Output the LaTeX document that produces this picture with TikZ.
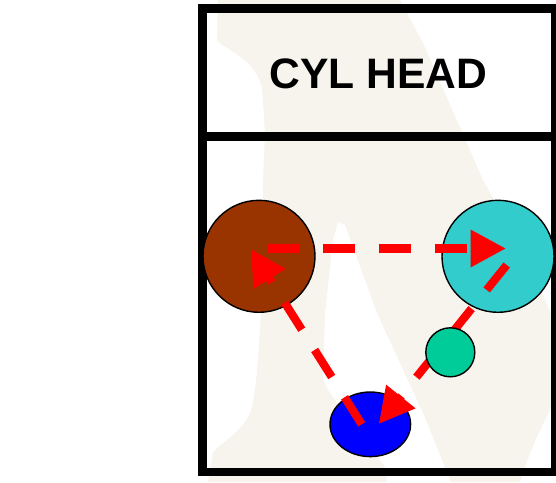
\documentclass[tikz,border=0pt]{standalone}
\usepackage{fontspec}
\setmainfont{Liberation Sans}
\usetikzlibrary{arrows.meta}
\definecolor{wm}{HTML}{F7F4EE}
\tikzset{
  x=1pt,y=-1pt,
  frame/.style={draw=black,line width=8.3pt},
  part/.style={draw=black,line width=1.4pt,inner sep=0pt,outer sep=0pt},
  timing/.style={draw=red,line width=8.2pt,dash pattern=on 32pt off 24pt,
    -{Triangle[length=35.3pt,width=35.3pt,fill=red]}},
}
\begin{document}
\begin{tikzpicture}
\useasboundingbox (0,0) rectangle (556,482);
% watermark
\fill[wm] (218,0) -- (217,40) .. controls (224,50) and (252,55) .. (262,87)
  -- (265,133) -- (263,180) -- (262,293) .. controls (258,370) and (255,400) .. (250,413)
  .. controls (243,430) and (222,443) .. (213,452) -- (208,482) -- (387,482) -- (385,467)
  -- (330,393) -- (323,380) -- (325,313) -- (333,240) -- (338,222) -- (345,225) -- (377,313) -- (423,413)
  -- (445,467) -- (451,482) -- (520,482) .. controls (530,450) and (540,430) .. (550,410)
  -- (556,395) -- (556,325) -- (530,265) -- (483,180) -- (423,43) -- (400,0) -- cycle;
% frame
\node[draw=none,inner sep=0pt] (frametl) at (202.4,8.6) {};
\node[draw=none,inner sep=0pt] (framebr) at (555,472) {};
\draw[frame] (frametl.center) rectangle (framebr.center);
\coordinate (divl) at (198,136.5);
\coordinate (divr) at (556,136.5);
\draw[frame] (divl) -- (divr);
\node[font=\bfseries,text=black,inner sep=0pt] (title) at (378.5,74) {\fontsize{42.6}{50}\selectfont CYL HEAD};
% parts
\node[part,circle,fill={rgb,255:red,153;green,51;blue,0},minimum size=112pt] (brown) at (259,256.3) {};
\node[part,circle,fill={rgb,255:red,51;green,204;blue,204},minimum size=112pt] (teal) at (498,256.3) {};
\draw[part,fill=blue] (370.3,424.3) ellipse [x radius=40.3pt,y radius=32.3pt];
% connectors
\coordinate (a1) at (266.5,248.5);
\coordinate (a2) at (506,248.5);
\coordinate (b1) at (506.7,265);
\coordinate (b2) at (378.7,424);
\coordinate (c1) at (361.7,424.3);
\coordinate (c2) at (250.7,249);
\draw[timing] (b1) -- (b2);
\node[part,circle,fill={rgb,255:red,0;green,204;blue,153},minimum size=49pt] (green) at (450.3,352.3) {};
\draw[timing] (c1) -- (c2);
\draw[timing] (a1) -- (a2);
\end{tikzpicture}
\end{document}
